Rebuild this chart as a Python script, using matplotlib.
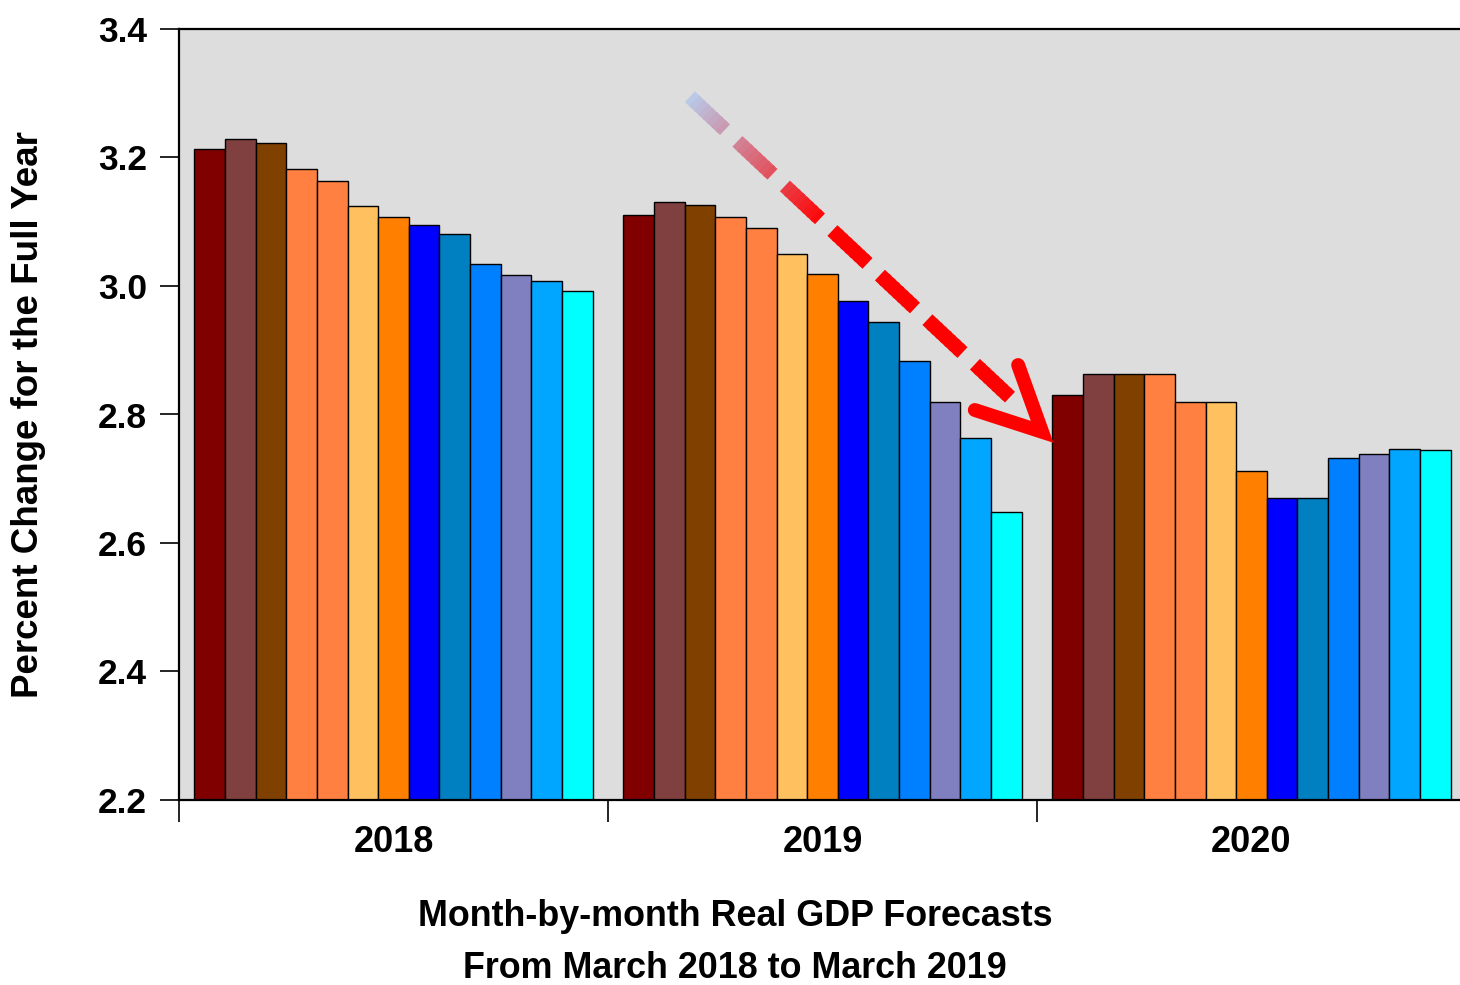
import matplotlib
matplotlib.use('Agg')
import matplotlib.pyplot as plt
import numpy as np

# full-year real GDP growth forecasts, one bar per monthly survey (Mar 2018 .. Mar 2019)
years = ['2018', '2019', '2020']
fc_2018 = [3.213, 3.229, 3.222, 3.182, 3.164, 3.125, 3.107, 3.095, 3.081, 3.035, 3.017, 3.008, 2.992]
fc_2019 = [3.110, 3.131, 3.126, 3.108, 3.090, 3.050, 3.019, 2.977, 2.944, 2.884, 2.820, 2.764, 2.649]
fc_2020 = [2.830, 2.863, 2.863, 2.863, 2.820, 2.820, 2.712, 2.670, 2.670, 2.732, 2.738, 2.746, 2.745]
bar_colors = ['#800000', '#804040', '#804000', '#FF8040', '#FF8040', '#FFC060', '#FF8000',
              '#0000FF', '#0080C0', '#0080FF', '#8080C0', '#00A6FF', '#00FFFF']
y_ticks = [2.2, 2.4, 2.6, 2.8, 3.0, 3.2, 3.4]

plt.rcParams['font.family'] = ['Liberation Sans', 'DejaVu Sans']
plt.rcParams['font.weight'] = 'bold'

W, H = 1460, 985
fig = plt.figure(figsize=(W / 100, H / 100), dpi=100)
# axes runs a little past the right edge of the figure
ax = fig.add_axes([179 / W, 1 - 800 / H, (1466 - 179) / W, (800 - 29) / H])
ax.set_facecolor('#DDDDDD')

n = len(bar_colors)
slot = 1.0 / (n + 1)
for g, vals in enumerate([fc_2018, fc_2019, fc_2020]):
    for i, v in enumerate(vals):
        left = g - 0.5 + (i + 0.5) * slot
        ax.bar(left, v - 2.2, bottom=2.2, width=slot, align='edge',
               color=bar_colors[i], edgecolor='black', linewidth=1.0, zorder=2)

ax.set_xlim(-0.5, 2.5)
ax.set_ylim(2.2, 3.4)
ax.set_yticks(y_ticks)
ax.set_yticklabels(['%.1f' % t for t in y_ticks], fontsize=25.5, fontweight='bold')
ax.tick_params(axis='y', direction='out', length=14, width=1.2, pad=9)

ax.set_xticks([-0.5, 0.5, 1.5, 2.5])
ax.set_xticklabels([])
ax.tick_params(axis='x', direction='out', length=16, width=1.2)
for g, yr in enumerate(years):
    ax.text(g, -0.055, yr, transform=ax.get_xaxis_transform(), ha='center', va='center',
            fontsize=26, fontweight='bold')

for s in ax.spines.values():
    s.set_linewidth(1.6)

ax.set_ylabel('Percent Change for the Full Year', fontsize=26.5, fontweight='bold')
ax.yaxis.label.set_va('center')
ax.yaxis.set_label_coords((29 - 179) / (1466 - 179), 0.5)

fig.text(735 / W, 1 - 916 / H, 'Month-by-month Real GDP Forecasts', ha='center', va='center',
         fontsize=25.8, fontweight='bold')
fig.text(735 / W, 1 - 969 / H, 'From March 2018 to March 2019', ha='center', va='center',
         fontsize=25.8, fontweight='bold')

# dashed trend arrow, fading in from pale blue to red
p0 = np.array([0.691, 3.2945])
p1 = np.array([1.437, 2.827])
n_dash, dash_frac = 7, 48.0 / 65.0
period = 1.0 / (n_dash - 1 + dash_frac)
c_start = np.array([0.72, 0.80, 0.92])
c_end = np.array([1.0, 0.0, 0.0])
for k in range(n_dash):
    t0 = k * period
    t1 = t0 + dash_frac * period
    pieces = 8
    step = (t1 - t0) / pieces
    for j in range(pieces):
        a = t0 + step * j
        b = min(t1, a + step * 1.4)
        mix = min(1.0, (a + step / 2) / 0.42)
        col = c_start * (1 - mix) + c_end * mix
        q0 = p0 + (p1 - p0) * a
        q1 = p0 + (p1 - p0) * b
        ax.plot([q0[0], q1[0]], [q0[1], q1[1]], color=col, lw=10.5,
                solid_capstyle='butt', zorder=5)

tip = (1.512, 2.773)
arm_up = (1.456, 2.877)
arm_lo = (1.355, 2.807)
ax.plot([arm_up[0], tip[0], arm_lo[0]], [arm_up[1], tip[1], arm_lo[1]], color='#FF0000',
        lw=10, solid_capstyle='round', solid_joinstyle='miter', zorder=6)

fig.savefig('out.png', dpi=100)
